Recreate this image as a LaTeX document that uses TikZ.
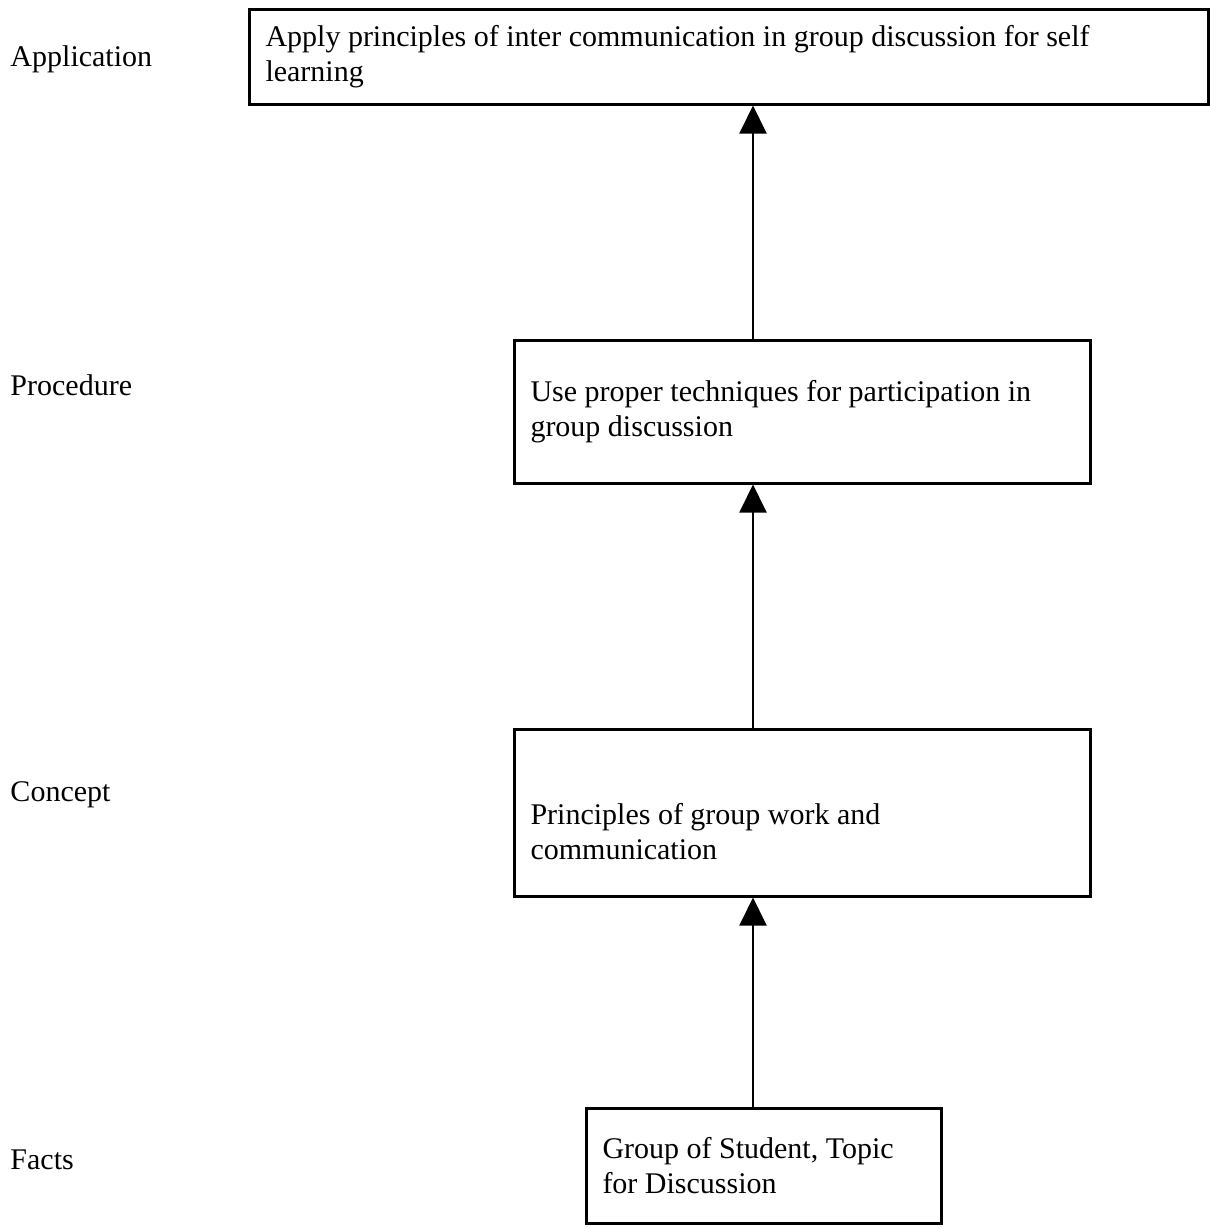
\documentclass[tikz,border=0pt]{standalone}
\usepackage{fontspec}
\setmainfont{Liberation Serif}
\usetikzlibrary{arrows.meta}

\begin{document}
\begin{tikzpicture}[x=0.4pt, y=-0.4pt, >={Triangle[width=10.8pt,length=11.2pt]},
    box/.style={draw, line width=1pt, anchor=north west, align=flush left,
        inner xsep=6.5pt, inner ysep=0pt, font=\fontsize{12pt}{13.8pt}\selectfont},
    level/.style={anchor=base west, inner sep=0pt, font=\fontsize{12pt}{13.8pt}\selectfont}]
    \useasboundingbox (0,0) rectangle (1209,1228);

    % level names on the left
    \node[level] (lapp) at (10,66) {Application};
    \node[level] (lproc) at (10,395) {Procedure};
    \node[level] (lconc) at (10,801) {Concept};
    \node[level] (lfact) at (10,1169) {Facts};

    % boxes, top to bottom
    \node[box, text width=370.6pt, minimum height=38pt] (apply) at (248,8)
        {Apply principles of inter communication in group discussion for self\\learning};
    \node[box, text width=217.4pt, minimum height=57.2pt] (tech) at (513,339)
        {Use proper techniques for participation in\\group discussion};
    \node[box, text width=217.4pt, minimum height=66.8pt] (princ) at (513,728)
        {\strut\\Principles of group work and\\communication};
    \node[box, text width=129pt, minimum height=46pt] (group) at (585,1107)
        {Group of Student, Topic\\for Discussion};

    % vertical axis of the arrows
    \coordinate (axis) at (753,0);
    \draw[->, line width=0.8pt] (tech.north -| axis) -- (apply.south -| axis);
    \draw[->, line width=0.8pt] (princ.north -| axis) -- (tech.south -| axis);
    \draw[->, line width=0.8pt] (group.north -| axis) -- (princ.south -| axis);
\end{tikzpicture}
\end{document}
